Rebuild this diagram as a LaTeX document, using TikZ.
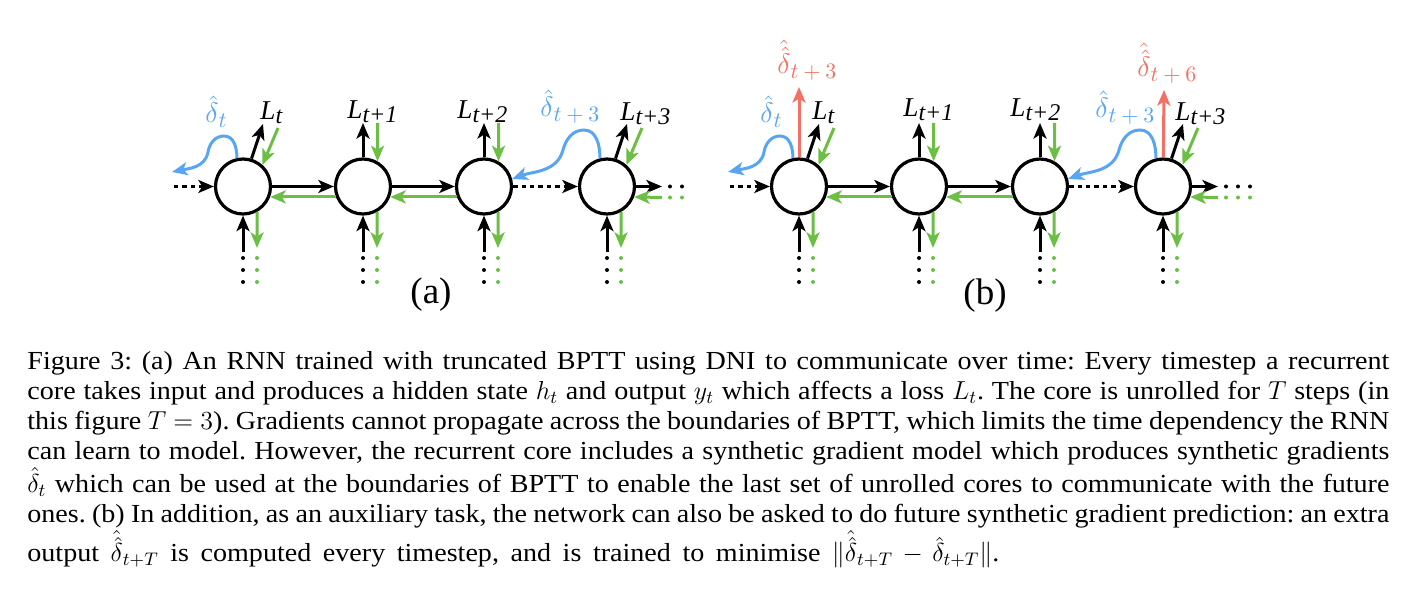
\RequirePackage{fix-cm}
\documentclass[tikz,border=0pt]{standalone}
\usepackage[no-math]{fontspec}
\setmainfont{Liberation Serif}
\newfontfamily\capfont{Liberation Serif}[FakeStretch=1.08]
\usetikzlibrary{arrows.meta}
\definecolor{dgreen}{RGB}{108,190,69}
\definecolor{dblue}{RGB}{88,165,242}
\definecolor{dred}{RGB}{244,112,100}
\newcommand{\Lab}[1]{{\fontsize{13.6}{16}\selectfont\itshape L}\raisebox{-1.8pt}{\fontsize{12}{14}\selectfont\itshape #1}}
\newcommand{\Dlab}[1]{{\fontsize{14}{16}\selectfont$\hat{\delta}$}\raisebox{-2.5pt}{\fontsize{11}{13}\selectfont$#1$}}
\newcommand{\DDlab}[1]{{\fontsize{14}{16}\selectfont$\hat{\hat{\delta}}$}\raisebox{-2.5pt}{\fontsize{11}{13}\selectfont$#1$}}
\begin{document}
\begin{tikzpicture}[x=0.5pt,y=-0.5pt,
  core/.style={circle,draw,line width=1.6pt,minimum size=27.5pt,inner sep=0pt},
  tipstyle/.style={-{Stealth[length=7.8pt,width=6.5pt,inset=2pt]}},
  blk/.style={line width=1.5pt,tipstyle},
  grn/.style={blk,draw=dgreen,fill=dgreen},
  blu/.style={blk,draw=dblue,fill=dblue},
  redarr/.style={blk,draw=dred,fill=dred},
  dashy/.style={dash pattern=on 2.2pt off 2pt},
  rdots/.style={line width=2pt,line cap=round,dash pattern=on 0pt off 6pt},
  lab/.style={anchor=base west,inner sep=0pt}]
\useasboundingbox (0,0) rectangle (1418,614);

% nodes
\foreach \p/\o in {a/0,b/556}{
  \foreach \i/\x in {1/243,2/363,3/484,4/607}{
    \pgfmathsetmacro{\cx}{\x+\o}
    \node[core] (\p\i) at (\cx,186.5) {};
  }
}

\foreach \p/\o in {a/0,b/556}{
  % horizontal connectors
  \draw[blk] (\p1) -- (\p2);
  \draw[blk] (\p2) -- (\p3);
  \draw[grn] (\p2.201) -- (\p1.339);
  \draw[grn] (\p3.201) -- (\p2.339);
  \draw[blk,dashy] (\p3) -- (\p4);
  \coordinate (\p L) at ({174+\o},186.5);
  \draw[blk,dashy] (\p L) -- (\p1);
  \coordinate (\p R) at ({662+\o},186.5);
  \draw[blk] (\p4) -- (\p R);
  \coordinate (\p RG) at ({662+\o},197.5);
  \draw[grn] (\p RG) -- (\p4.339);
  \coordinate (\p D1) at ({670+\o},186.5);
  \coordinate (\p D2) at ({694+\o},186.5);
  \coordinate (\p E1) at ({670+\o},197.5);
  \coordinate (\p E2) at ({694+\o},197.5);
  \draw[rdots] (\p D1) -- (\p D2);
  \draw[rdots,dgreen] (\p E1) -- (\p E2);
  % top connectors, middle nodes
  \foreach \i/\x in {2/363,3/484}{
    \pgfmathsetmacro{\cx}{\x+\o}
    \coordinate (\p T\i) at (\cx,123);
    \coordinate (\p G\i) at (\cx+14.5,123);
    \draw[blk] (\p\i) -- (\p T\i);
    \draw[grn] (\p G\i) -- (\p\i.60);
  }
  % top connectors, boundary nodes
  \foreach \i/\x in {1/243,4/607}{
    \pgfmathsetmacro{\cx}{\x+\o}
    \coordinate (\p T\i) at (\cx+20,124);
    \coordinate (\p G\i) at (\cx+35,128);
    \draw[blk] (\p\i.73) -- (\p T\i);
    \draw[grn] (\p G\i) -- (\p\i.48);
  }
  % bottom connectors
  \foreach \i/\x in {1/243,2/363,3/484,4/607}{
    \pgfmathsetmacro{\cx}{\x+\o}
    \coordinate (\p B\i) at (\cx,252);
    \coordinate (\p H\i) at (\cx+14,248);
    \draw[blk] (\p B\i) -- (\p\i);
    \draw[grn] (\p\i.299) -- (\p H\i);
    \coordinate (\p U\i) at (\cx,258);
    \coordinate (\p V\i) at (\cx,282);
    \coordinate (\p W\i) at (\cx+14,258);
    \coordinate (\p X\i) at (\cx+14,282);
    \draw[rdots] (\p U\i) -- (\p V\i);
    \draw[rdots,dgreen] (\p W\i) -- (\p X\i);
  }
  % synthetic gradient curves
  \coordinate (\p P1) at ({224+\o},136);
  \coordinate (\p Q1) at ({208+\o},152);
  \coordinate (\p S1) at ({172+\o},172);
  \draw[blu,fill=none] (\p1.102) to[out=90,in=0] (\p P1) to[out=180,in=80] (\p Q1) to[out=260,in=12] (\p S1);
  \coordinate (\p P4) at ({584+\o},130);
  \coordinate (\p Q4) at ({563+\o},150);
  \draw[blu,fill=none] (\p4.104) to[out=90,in=0] (\p P4) to[out=180,in=75] (\p Q4) to[out=255,in=20] (\p3.15);
}

% red future-prediction arrows (b)
\coordinate (rt1) at (799,87);
\coordinate (rt4) at (1164,90);
\draw[redarr] (b1) -- (rt1);
\draw[redarr] (b4) -- (rt4);

% labels (a)
\node[lab,text=dblue] (la0) at (205,123) {\Dlab{t}};
\node[lab] (la1) at (260,120) {\Lab{t}};
\node[lab] (la2) at (347,119) {\Lab{t+1}};
\node[lab] (la3) at (457,119) {\Lab{t+2}};
\node[lab,text=dblue] (la5) at (540,117) {\Dlab{t+3}};
\node[lab] (la4) at (620,121) {\Lab{t+3}};
% labels (b)
\node[lab,text=dred] (lb6) at (777,74) {\DDlab{t+3}};
\node[lab,text=dblue] (lb0) at (760,123) {\Dlab{t}};
\node[lab] (lb1) at (812,120) {\Lab{t}};
\node[lab] (lb2) at (903,117) {\Lab{t+1}};
\node[lab] (lb3) at (1010,117) {\Lab{t+2}};
\node[lab,text=dblue] (lb5) at (1095,118) {\Dlab{t+3}};
\node[lab] (lb4) at (1175,121) {\Lab{t+3}};
\node[lab,text=dred] (lb7) at (1137,77) {\DDlab{t+6}};

\node[anchor=base,inner sep=0pt,font=\fontsize{18.5}{22}\selectfont] (pa) at (431,304) {(a)};
\node[anchor=base,inner sep=0pt,font=\fontsize{18.5}{22}\selectfont] (pb) at (985,305) {(b)};

% caption
\node[anchor=base west,inner sep=0pt] (cap) at (27,370)
{\begin{minipage}[t]{681pt}\capfont\fontsize{13}{15}\selectfont\frenchspacing
\hbox to\hsize{Figure 3: (a) An RNN trained with truncated BPTT using DNI to communicate over time: Every timestep a recurrent}
\hbox to\hsize{core takes input and produces a hidden state $h_t$ and output $y_t$ which affects a loss $L_t$. The core is unrolled for $T$ steps (in}
\hbox to\hsize{this figure $T=3$). Gradients cannot propagate across the boundaries of BPTT, which limits the time dependency the RNN}
\hbox to\hsize{can learn to model. However, the recurrent core includes a synthetic gradient model which produces synthetic gradients}
\hbox to\hsize{$\hat{\delta}_t$ which can be used at the boundaries of BPTT to enable the last set of unrolled cores to communicate with the future}
\hbox to\hsize{ones. (b) In addition, as an auxiliary task, the network can also be asked to do future synthetic gradient prediction: an extra}
\hbox to 486pt{output $\hat{\hat{\delta}}_{t+T}$ is computed every timestep, and is trained to minimise $\|\hat{\hat{\delta}}_{t+T}-\hat{\delta}_{t+T}\|$.}
\end{minipage}};
\end{tikzpicture}
\end{document}
